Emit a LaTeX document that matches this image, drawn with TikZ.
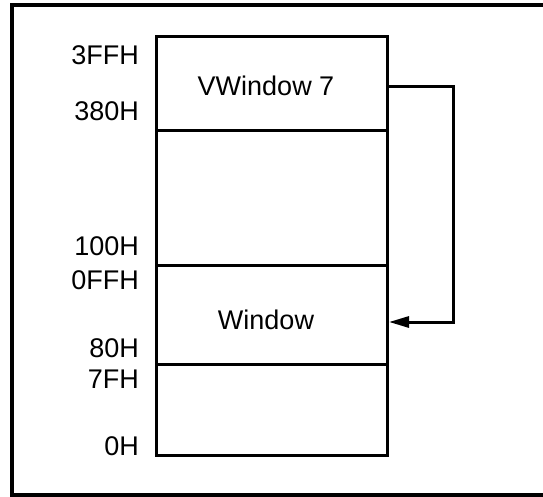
\documentclass[tikz,border=0pt]{standalone}
\usepackage{fontspec}
\setmainfont{Liberation Sans}
\usetikzlibrary{arrows.meta}
\begin{document}
\begin{tikzpicture}[x=1pt,y=-1pt,
  seg/.style={draw, line width=3pt, minimum width=231pt, anchor=north west, inner sep=0pt},
  txt/.style={font=\fontsize{27}{32}\selectfont, inner sep=0pt},
  lbl/.style={txt, anchor=east},
  conn/.style={line width=3pt, -{Triangle[length=20pt,width=11pt]}}]
\useasboundingbox (0,0) rectangle (543,497);
\draw[line width=4pt] (12,5.5) rectangle (560,495);
% memory segments
\node[seg, minimum height=94pt]   (s1) at (155,35) {};
\node[seg, minimum height=134.5pt] (s2) at (155,129) {};
\node[seg, minimum height=99.5pt] (s3) at (155,263.5) {};
\node[seg, minimum height=91pt]   (s4) at (155,363) {};
\node[txt] (t1) at (266,86) {VWindow 7};
\node[txt] (t3) at (266,320) {Window};
% address labels
\node[lbl] (a1) at (139,55)  {3FFH};
\node[lbl] (a2) at (139,111) {380H};
\node[lbl] (a3) at (139,246) {100H};
\node[lbl] (a4) at (139,280) {0FFH};
\node[lbl] (a5) at (139,348) {80H};
\node[lbl] (a6) at (139,379) {7FH};
\node[lbl] (a7) at (139,446) {0H};
% connector
\coordinate (c1) at (453,87);
\coordinate (c2) at (453,322);
\draw[conn] (s1.east |- c1) -- (c1) -- (c2) -- (s3.east |- c2);
\end{tikzpicture}
\end{document}
